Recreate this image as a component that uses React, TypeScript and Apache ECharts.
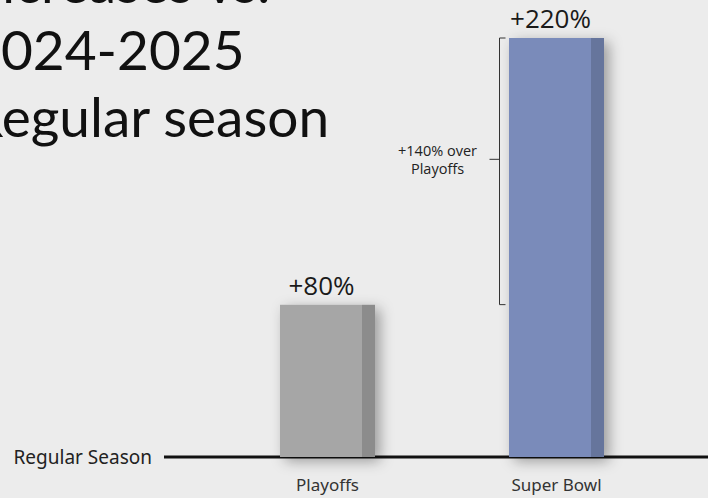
import React, { useEffect, useRef } from "react";
import * as echarts from "echarts";

const categories = ["Playoffs", "Super Bowl"];
const increases = [80, 220];
const barColors = [
  { front: "#a6a6a6", side: "#8c8c8c" },
  { front: "#7a8bba", side: "#66749c" },
];
const titleLines = ["Increases vs.", "2024-2025", "Regular season"];
const baselineLabel = "Regular Season";
const bracket = { category: 1, from: 80, to: 220, note: "over\nPlayoffs" };

export default function App() {
  const ref = useRef<HTMLDivElement>(null);
  useEffect(() => {
    if (!ref.current) return;
    const chart = echarts.init(ref.current, undefined, { renderer: "svg" });
    const frontShare = 82 / 95;
    const option: any = {
      animation: false,
      backgroundColor: "#ececec",
      grid: { left: 213, right: 37, top: 38, bottom: 41 },
      xAxis: {
        type: "category",
        data: categories,
        axisLine: { show: false },
        axisTick: { show: false },
        axisLabel: {
          color: "#333",
          fontSize: 17,
          fontFamily: "Noto Sans",
          margin: 19,
        },
      },
      yAxis: {
        type: "value",
        min: 0,
        max: 220,
        interval: 220,
        splitLine: { show: false },
        axisLine: { show: false },
        axisTick: { show: false },
        axisLabel: {
          margin: 61,
          color: "#222",
          fontSize: 19,
          fontFamily: "Noto Sans",
          formatter: (v: number) => (v === 0 ? baselineLabel : ""),
        },
      },
      graphic: [
        {
          type: "line",
          z: 0,
          shape: { x1: 164, y1: 457, x2: 708, y2: 457 },
          style: { stroke: "#111", lineWidth: 3 },
        },
        ...titleLines.map((t, i) => ({
          type: "text",
          x: -31,
          y: 9 + i * 67,
          style: {
            text: t,
            fontSize: 55,
            fontFamily: "Lato",
            fill: "#111",
            textAlign: "left",
            textVerticalAlign: "bottom",
          },
        })),
      ],
      series: [
        {
          type: "bar",
          z: 3,
          barWidth: 95,
          data: increases.map((v, i) => ({
            value: v,
            itemStyle: {
              color: new echarts.graphic.LinearGradient(0, 0, 1, 0, [
                { offset: 0, color: barColors[i].front },
                { offset: frontShare, color: barColors[i].front },
                { offset: frontShare, color: barColors[i].side },
                { offset: 1, color: barColors[i].side },
              ]),
              shadowBlur: 14,
              shadowOffsetX: 5,
              shadowOffsetY: 4,
              shadowColor: "rgba(0,0,0,0.35)",
            },
          })),
          label: {
            show: true,
            position: "top",
            distance: 7,
            offset: [-6, 0],
            formatter: (p: any) => "+" + p.value + "%",
            fontSize: 26,
            fontFamily: "Open Sans",
            color: "#1a1a1a",
          },
        },
        {
          type: "custom",
          z: 4,
          data: [[bracket.category, bracket.from, bracket.to]],
          renderItem: (params: any, api: any) => {
            const top = api.coord([api.value(0), api.value(2)]);
            const bot = api.coord([api.value(0), api.value(1)]);
            const x = top[0] - 57;
            const midY = top[1] + 0.455 * (bot[1] - top[1]);
            const diff = api.value(2) - api.value(1);
            return {
              type: "group",
              children: [
                {
                  type: "polyline",
                  shape: {
                    points: [
                      [x + 6, top[1]],
                      [x, top[1]],
                      [x, bot[1]],
                      [x + 6, bot[1]],
                    ],
                  },
                  style: { stroke: "#333", lineWidth: 1, fill: "none" },
                },
                {
                  type: "line",
                  shape: { x1: x - 10, y1: midY, x2: x, y2: midY },
                  style: { stroke: "#333", lineWidth: 1 },
                },
                {
                  type: "text",
                  x: x - 62,
                  y: midY,
                  style: {
                    text: "+" + diff + "% " + bracket.note,
                    fontSize: 14.5,
                    lineHeight: 18,
                    fontFamily: "Open Sans",
                    fill: "#222",
                    textAlign: "center",
                    textVerticalAlign: "middle",
                  },
                },
              ],
            };
          },
        },
      ],
    };
    chart.setOption(option);
    return () => chart.dispose();
  }, []);
  return (
    <div
      ref={ref}
      style={{ position: "fixed", left: 0, top: 0, width: 708, height: 498 }}
    />
  );
}
